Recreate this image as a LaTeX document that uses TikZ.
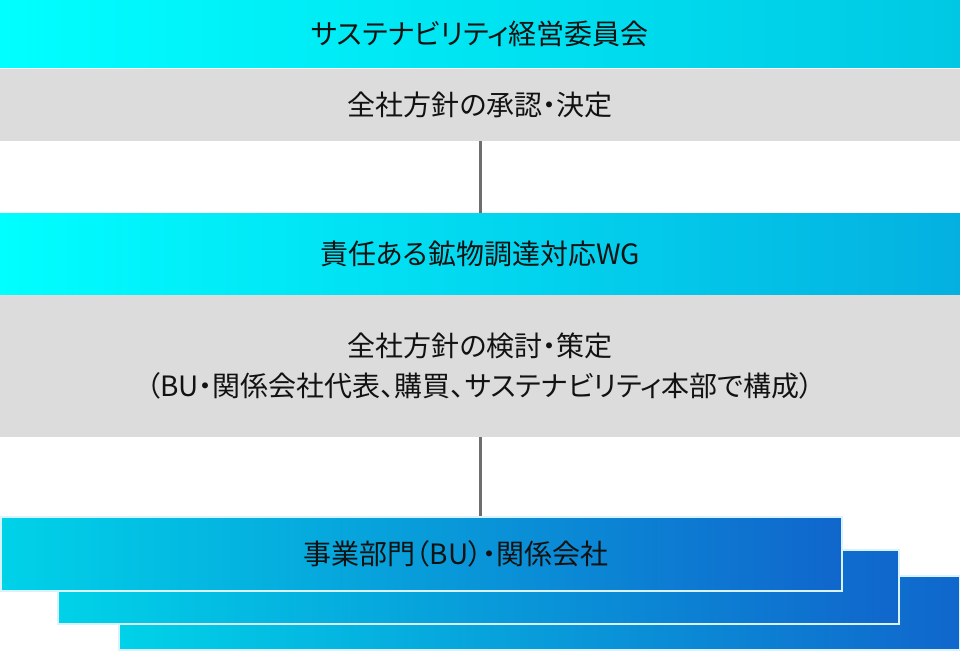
\documentclass[tikz,border=0pt]{standalone}
\usepackage{fontspec}
\usepackage{tikz}
\newfontfamily\jpfont[RawFeature=+palt]{Noto Sans CJK JP}
\definecolor{cyanA}{HTML}{00FFFF}
\definecolor{cyanB}{HTML}{00F2F6}
\definecolor{cyanC}{HTML}{00C8E4}
\definecolor{cyanD}{HTML}{00DCEC}
\definecolor{cyanE}{HTML}{04B0E0}
\definecolor{buA}{HTML}{00D2E8}
\definecolor{buB}{HTML}{04BCE2}
\definecolor{buC}{HTML}{1066CC}
\definecolor{paleGray}{HTML}{DCDCDC}
\definecolor{linkGray}{HTML}{6E6E6E}

\begin{document}
\begin{tikzpicture}[x=1pt,y=-1pt,
    every node/.style={font=\jpfont\fontsize{28}{40}\selectfont, text=black!93, inner sep=0pt},
    head/.style={rectangle, minimum width=960pt, left color=cyanA, middle color=cyanB, right color=cyanC},
    body/.style={rectangle, minimum width=960pt, fill=paleGray, align=center},
    bubox/.style={rectangle, minimum width=841pt, minimum height=74pt, draw=white!85!cyan, line width=1.2pt,
        left color=buA, middle color=buB, right color=buC},
    link/.style={draw=linkGray, line width=3pt}]

    \useasboundingbox (0,0) rectangle (960,650);

    % committee
    \node[head, minimum height=68pt] (committee) at (480,34) {サステナビリティ経営委員会};
    \node[body, minimum height=72pt] (approve) at (480,105) {全社方針の承認・決定};

    % working group
    \node[head, minimum height=82pt, middle color=cyanD, right color=cyanE] (wg) at (480,254) {責任ある鉱物調達対応WG};
    \node[body, minimum height=142pt] (review) at (480,366) {全社方針の検討・策定\\（BU・関係会社代表、購買、サステナビリティ本部で構成）};

    % business units (stacked)
    \node[bubox] (buthree) at (539.5,613) {};
    \node[bubox] (butwo) at (478.5,587) {};
    \node[bubox] (buone) at (421.5,554) {};
    \node (bu) at (456,554) {事業部門（BU）・関係会社};

    \draw[link] (approve.south) -- (wg.north);
    \draw[link] (review.south) -- (review.south |- buone.north);
\end{tikzpicture}
\end{document}
